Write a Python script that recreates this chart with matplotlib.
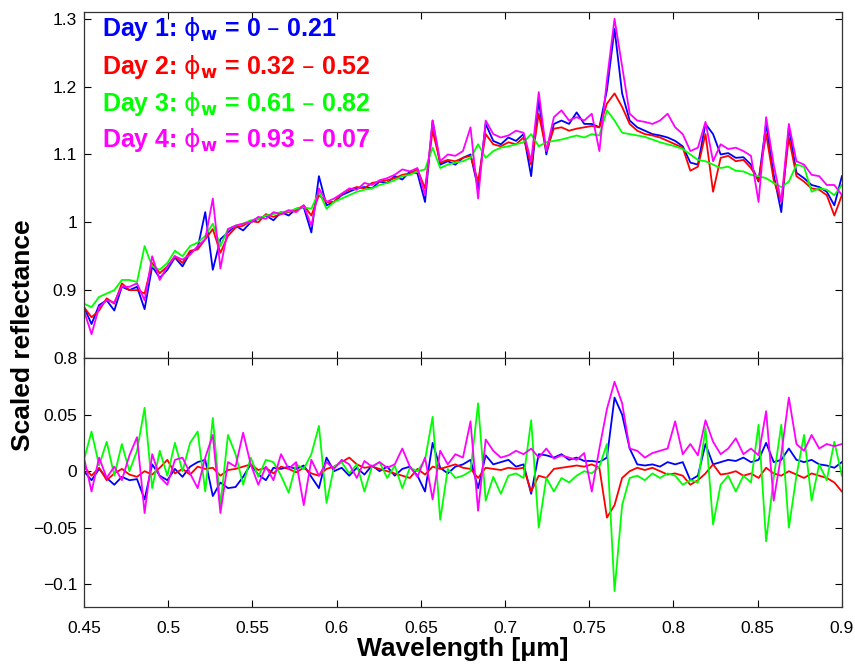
import numpy as np
import matplotlib
matplotlib.use('Agg')
import matplotlib.pyplot as plt

#***************************************************************************
#********************************DATA***************************************
#***************************************************************************

# sampling grid of the spectra [um]
wavelength = np.round(np.linspace(0.45, 0.90, 101), 4)

day_names = ['Day 1:', 'Day 2:', 'Day 3:', 'Day 4:']
phase_ranges = ['0 \u2013 0.21', '0.32 \u2013 0.52', '0.61 \u2013 0.82', '0.93 \u2013 0.07']
day_colors = ['#0000ff', '#ff0000', '#00ff00', '#ff00ff']

# top panel: scaled reflectance
blue_top = [0.875, 0.850, 0.878, 0.885, 0.870, 0.905, 0.900, 0.905, 0.872, 0.935,
            0.918, 0.930, 0.948, 0.935, 0.955, 0.962, 1.015, 0.930, 0.975, 0.985,
            0.995, 0.988, 1.000, 1.005, 1.010, 1.003, 1.015, 1.010, 1.020, 1.022,
            0.985, 1.068, 1.025, 1.030, 1.040, 1.045, 1.050, 1.052, 1.050, 1.060,
            1.058, 1.068, 1.063, 1.075, 1.072, 1.030, 1.150, 1.085, 1.090, 1.085,
            1.095, 1.100, 1.050, 1.145, 1.120, 1.115, 1.125, 1.120, 1.130, 1.068,
            1.180, 1.100, 1.145, 1.150, 1.145, 1.162, 1.145, 1.145, 1.140, 1.195,
            1.285, 1.190, 1.150, 1.140, 1.135, 1.130, 1.128, 1.125, 1.120, 1.112,
            1.088, 1.085, 1.145, 1.130, 1.100, 1.102, 1.095, 1.096, 1.085, 1.060,
            1.145, 1.070, 1.015, 1.140, 1.073, 1.065, 1.055, 1.052, 1.045, 1.025,
            1.068]
red_top = [0.875, 0.860, 0.870, 0.888, 0.880, 0.910, 0.900, 0.900, 0.895, 0.940,
           0.925, 0.935, 0.950, 0.940, 0.958, 0.960, 0.975, 0.990, 0.955, 0.980,
           0.992, 0.995, 1.002, 1.000, 1.012, 1.008, 1.012, 1.015, 1.018, 1.025,
           1.010, 1.040, 1.030, 1.030, 1.042, 1.048, 1.052, 1.050, 1.058, 1.060,
           1.062, 1.065, 1.070, 1.072, 1.078, 1.050, 1.135, 1.088, 1.092, 1.090,
           1.095, 1.098, 1.060, 1.130, 1.115, 1.112, 1.118, 1.115, 1.125, 1.085,
           1.160, 1.105, 1.138, 1.140, 1.135, 1.138, 1.140, 1.142, 1.140, 1.175,
           1.190, 1.170, 1.145, 1.135, 1.130, 1.128, 1.125, 1.120, 1.115, 1.110,
           1.076, 1.082, 1.130, 1.045, 1.095, 1.098, 1.090, 1.092, 1.080, 1.062,
           1.130, 1.062, 1.030, 1.125, 1.068, 1.060, 1.050, 1.048, 1.040, 1.010,
           1.040]
green_top = [0.880, 0.875, 0.890, 0.895, 0.900, 0.915, 0.915, 0.912, 0.965, 0.935,
             0.930, 0.940, 0.958, 0.950, 0.965, 0.970, 0.980, 0.998, 0.965, 0.990,
             0.995, 0.998, 1.003, 1.005, 1.010, 1.012, 1.015, 1.016, 1.020, 1.022,
             1.020, 1.045, 1.020, 1.030, 1.035, 1.040, 1.045, 1.048, 1.050, 1.055,
             1.058, 1.062, 1.068, 1.070, 1.075, 1.078, 1.110, 1.080, 1.085, 1.088,
             1.090, 1.095, 1.115, 1.095, 1.105, 1.110, 1.112, 1.115, 1.118, 1.130,
             1.112, 1.118, 1.120, 1.122, 1.125, 1.128, 1.125, 1.130, 1.128, 1.165,
             1.150, 1.132, 1.130, 1.128, 1.126, 1.122, 1.118, 1.115, 1.112, 1.108,
             1.100, 1.092, 1.090, 1.085, 1.080, 1.082, 1.076, 1.075, 1.070, 1.068,
             1.065, 1.058, 1.052, 1.060, 1.085, 1.082, 1.045, 1.050, 1.048, 1.040,
             1.055]
magenta_top = [0.870, 0.835, 0.875, 0.885, 0.882, 0.905, 0.905, 0.910, 0.885, 0.950,
               0.915, 0.935, 0.950, 0.945, 0.952, 0.965, 0.975, 1.035, 0.932, 0.990,
               0.995, 0.998, 1.000, 1.008, 1.005, 1.015, 1.012, 1.018, 1.015, 1.025,
               0.995, 1.050, 1.030, 1.035, 1.042, 1.050, 1.048, 1.058, 1.055, 1.062,
               1.065, 1.070, 1.078, 1.075, 1.080, 1.040, 1.150, 1.090, 1.100, 1.098,
               1.105, 1.140, 1.035, 1.150, 1.130, 1.125, 1.128, 1.135, 1.132, 1.090,
               1.192, 1.105, 1.155, 1.165, 1.150, 1.155, 1.150, 1.160, 1.105, 1.210,
               1.300, 1.230, 1.160, 1.150, 1.148, 1.145, 1.150, 1.160, 1.140, 1.130,
               1.105, 1.110, 1.148, 1.090, 1.115, 1.108, 1.110, 1.105, 1.098, 1.030,
               1.155, 1.085, 1.030, 1.145, 1.090, 1.085, 1.070, 1.068, 1.055, 1.055,
               1.040]

# bottom panel: residuals
blue_res = [0.000, -0.008, 0.002, -0.006, -0.012, -0.005, -0.008, -0.007, -0.025, 0.006,
            -0.004, -0.008, 0.002, -0.005, 0.004, 0.008, 0.010, -0.022, -0.010, -0.015,
            -0.014, -0.005, 0.006, -0.003, -0.008, 0.003, 0.002, 0.004, 0.002, 0.005,
            -0.005, -0.015, 0.012, 0.000, 0.003, -0.004, 0.003, -0.003, 0.005, 0.000,
            0.004, -0.004, 0.002, 0.004, -0.004, -0.018, 0.025, 0.003, -0.002, 0.004,
            0.006, 0.010, -0.015, 0.014, 0.006, 0.008, 0.010, 0.004, 0.006, -0.020,
            0.015, 0.014, 0.012, 0.015, 0.010, 0.012, 0.009, 0.009, 0.008, 0.012,
            0.065, 0.050, 0.020, 0.006, 0.005, 0.006, 0.004, 0.008, 0.006, 0.008,
            -0.008, -0.004, 0.024, 0.006, 0.008, 0.010, 0.009, 0.012, 0.008, 0.010,
            0.025, 0.008, 0.010, 0.020, 0.010, 0.008, 0.010, 0.006, 0.005, 0.003,
            0.008]
red_res = [0.004, -0.004, 0.003, -0.008, -0.002, 0.002, -0.003, -0.005, 0.000, -0.003,
           0.003, 0.010, -0.002, 0.002, -0.003, 0.004, 0.002, 0.003, -0.004, 0.001,
           0.002, 0.004, 0.006, 0.001, 0.003, -0.002, 0.004, 0.002, -0.001, 0.003,
           -0.002, -0.004, 0.002, 0.004, 0.008, 0.012, 0.006, 0.003, 0.004, 0.002,
           0.000, -0.002, -0.004, -0.006, 0.002, -0.003, 0.004, 0.002, 0.004, 0.006,
           0.003, 0.002, -0.006, 0.003, 0.002, 0.001, 0.003, 0.002, 0.003, -0.018,
           -0.004, -0.006, 0.002, 0.003, 0.004, 0.005, 0.004, 0.006, 0.003, -0.041,
           -0.030, -0.006, 0.000, 0.003, 0.001, 0.003, 0.000, -0.003, -0.002, -0.004,
           -0.012, -0.008, -0.002, 0.006, -0.003, -0.002, 0.000, -0.004, -0.002, -0.006,
           0.003, -0.002, -0.004, 0.000, -0.003, -0.006, -0.002, -0.004, -0.006, -0.010,
           -0.018]
green_res = [0.010, 0.035, 0.005, 0.026, -0.004, 0.024, 0.000, 0.018, 0.056, -0.015,
             0.018, -0.004, 0.025, 0.000, 0.025, 0.035, -0.018, 0.047, -0.030, 0.032,
             0.015, -0.012, 0.012, -0.005, 0.010, 0.008, -0.004, -0.019, 0.006, 0.002,
             0.015, 0.040, -0.028, 0.004, 0.008, -0.002, 0.006, -0.018, 0.004, 0.008,
             -0.006, 0.005, -0.015, 0.003, 0.000, 0.010, 0.048, -0.043, 0.002, -0.006,
             -0.004, 0.000, 0.060, -0.026, -0.005, -0.020, -0.004, -0.002, -0.006, 0.045,
             -0.050, -0.006, -0.018, -0.006, -0.010, -0.004, 0.000, -0.002, 0.004, 0.024,
             -0.106, -0.030, -0.006, -0.004, -0.008, -0.002, -0.006, -0.002, -0.004, -0.012,
             -0.008, -0.010, 0.038, -0.047, -0.012, -0.004, -0.018, -0.004, -0.010, 0.041,
             -0.062, -0.006, 0.041, -0.050, -0.004, 0.032, -0.026, 0.006, -0.008, 0.026,
             -0.004]
magenta_res = [0.012, -0.018, 0.012, -0.006, 0.004, -0.008, 0.014, 0.030, -0.037, 0.015,
               -0.005, -0.012, 0.010, 0.012, -0.002, -0.015, 0.012, 0.032, -0.037, 0.008,
               0.004, 0.034, 0.006, -0.012, 0.004, -0.008, 0.015, 0.002, 0.008, -0.030,
               0.010, -0.004, 0.008, 0.002, 0.010, 0.006, -0.006, 0.009, 0.004, 0.008,
               0.003, 0.006, 0.020, 0.004, -0.005, 0.012, -0.025, 0.018, 0.006, 0.015,
               0.012, 0.044, -0.035, 0.028, 0.018, 0.012, 0.014, 0.018, 0.015, 0.020,
               0.012, 0.020, 0.011, 0.014, 0.012, 0.010, 0.016, -0.018, 0.020, 0.055,
               0.079, 0.060, 0.020, 0.018, 0.012, 0.016, 0.018, 0.020, 0.044, 0.015,
               0.024, 0.014, 0.045, 0.026, 0.015, 0.020, 0.029, 0.015, 0.020, 0.014,
               0.053, -0.026, 0.015, 0.065, 0.024, 0.018, 0.032, 0.020, 0.024, 0.022,
               0.024]

x_ticks = [0.45, 0.5, 0.55, 0.6, 0.65, 0.7, 0.75, 0.8, 0.85, 0.9]
x_tick_labels = ['0.45', '0.5', '0.55', '0.6', '0.65', '0.7', '0.75', '0.8', '0.85', '0.9']
top_y_ticks = [0.8, 0.9, 1.0, 1.1, 1.2, 1.3]
top_y_tick_labels = ['0.8', '0.9', '1', '1.1', '1.2', '1.3']
bot_y_ticks = [-0.1, -0.05, 0, 0.05]
bot_y_tick_labels = ['\u22120.1', '\u22120.05', '0', '0.05']


#***************************************************************************
#*****************************PLOTTING**************************************
#***************************************************************************

plt.rcParams['font.family'] = ['Liberation Sans', 'DejaVu Sans']
plt.rcParams['mathtext.fontset'] = 'dejavusans'

#function to style one panel like a boxed matlab axes
def style_axes(ax):
	ax.tick_params(direction='in', top=True, right=True, length=5, width=0.8,
	               labelsize=12.5, pad=5, colors='#000000')
	for side in ax.spines.values():
		side.set_linewidth(0.9)
		side.set_color('#333333')
	ax.set_xlim(0.45, 0.9)
	ax.set_xticks(x_ticks)


def main():
	fig = plt.figure(figsize=(8.55, 6.66), dpi=100)
	ax_top = fig.add_axes([0.0982, 0.4625, 0.8865, 0.5195])
	ax_bot = fig.add_axes([0.0982, 0.0886, 0.8865, 0.3739])

	tops = [blue_top, red_top, green_top, magenta_top]
	residuals = [blue_res, red_res, green_res, magenta_res]
	for i in range(4):
		ax_top.plot(wavelength, tops[i], color=day_colors[i], lw=1.3)
		ax_bot.plot(wavelength, residuals[i], color=day_colors[i], lw=1.3)

	style_axes(ax_top)
	ax_top.set_ylim(0.8, 1.31)
	ax_top.set_yticks(top_y_ticks)
	ax_top.set_yticklabels(top_y_tick_labels)
	ax_top.tick_params(labelbottom=False)

	style_axes(ax_bot)
	ax_bot.set_ylim(-0.12, 0.1)
	ax_bot.set_yticks(bot_y_ticks)
	ax_bot.set_yticklabels(bot_y_tick_labels)
	ax_bot.set_xticklabels(x_tick_labels)
	ax_bot.tick_params(axis='x', pad=10)
	ax_bot.set_xlabel('Wavelength [\u03bcm]', fontsize=19, fontweight='bold', labelpad=1)

	fig.text(0.027, 0.497, 'Scaled reflectance', rotation=90, fontsize=19,
	         fontweight='bold', ha='center', va='center')

	# legend written as coloured text lines
	line_y = [0.9306, 0.8208, 0.7139, 0.6098]
	for i in range(4):
		label = day_names[i] + r' $\mathrm{\phi}_{\mathbf{w}}$ = ' + phase_ranges[i]
		ax_top.text(0.0237, line_y[i], label, transform=ax_top.transAxes,
		            color=day_colors[i], fontsize=18, fontweight='bold', va='baseline')

	fig.savefig('out.png', dpi=100)


if __name__ == '__main__':
	main()
